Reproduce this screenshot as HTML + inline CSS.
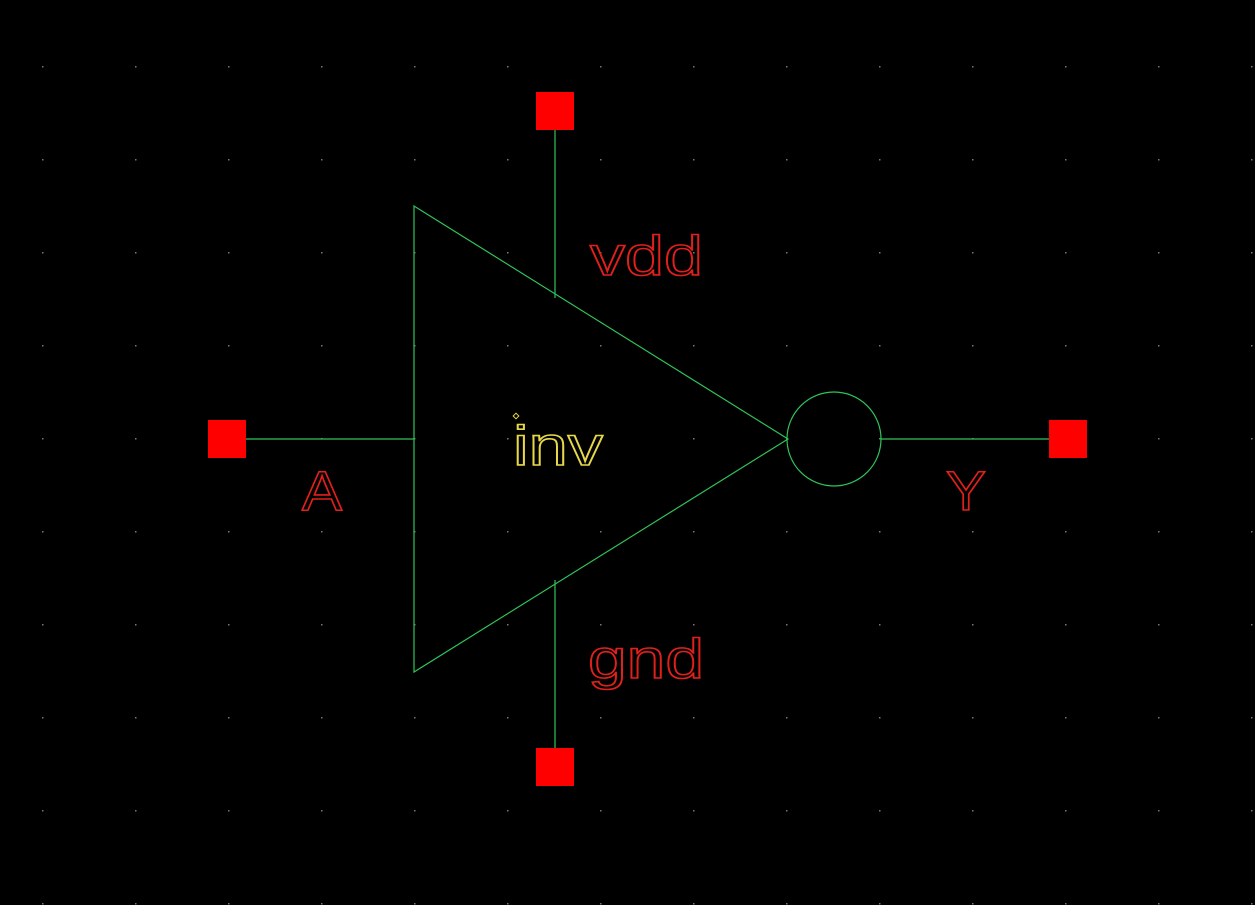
<!DOCTYPE html>
<html><head><style>html,body{margin:0;background:#000;width:1255px;height:905px;overflow:hidden}</style></head>
<body>
<svg id="sch" width="1255" height="905" viewBox="0 0 1255 905" style="display:block">
<rect width="1255" height="905" fill="#000"/>
<g id="grid"></g>
<g stroke="#22c55e" stroke-width="1.2" fill="none">
<polygon points="414,206 788,439 414,672" stroke="#2fc45a"/>
<circle cx="834" cy="439" r="47" stroke="#2fc45a"/>
<line x1="246" y1="439" x2="414" y2="439" stroke="#2fc45a"/>
<line x1="881" y1="439" x2="1050" y2="439" stroke="#2fc45a"/>
<line x1="555" y1="130" x2="555" y2="298" stroke="#2fc45a"/>
<line x1="555" y1="580" x2="555" y2="748" stroke="#2fc45a"/>
</g>
<rect x="536" y="92" width="38" height="38" fill="#ff0000"/>
<rect x="536" y="748" width="38" height="38" fill="#ff0000"/>
<rect x="208" y="420" width="38" height="38" fill="#ff0000"/>
<rect x="1049" y="420" width="38" height="38" fill="#ff0000"/>
<g font-family="Liberation Sans, sans-serif" font-size="56" fill="none" stroke-width="1.6">
<text x="590" y="275" stroke="#e0201c" textLength="113" lengthAdjust="spacingAndGlyphs">vdd</text>
<text x="588" y="678" stroke="#e0201c" textLength="116" lengthAdjust="spacingAndGlyphs">gnd</text>
<text x="302" y="510" stroke="#e0201c" textLength="40" lengthAdjust="spacingAndGlyphs">A</text>
<text x="946" y="510" stroke="#e0201c" textLength="40" lengthAdjust="spacingAndGlyphs">Y</text>
<text x="513" y="465" stroke="#e6d84a" textLength="90" lengthAdjust="spacingAndGlyphs">inv</text>
</g>
<rect x="514" y="414" width="4" height="4" fill="none" stroke="#e6d84a" transform="rotate(45 516 416)"/>
</svg>
<script>
var g=document.getElementById('grid');
for(var x=42;x<1255;x+=93){for(var y=66;y<905;y+=93){
var d=document.createElementNS('http://www.w3.org/2000/svg','rect');
d.setAttribute('x',x);d.setAttribute('y',y);d.setAttribute('width',1.5);d.setAttribute('height',1.5);d.setAttribute('fill','#777');


g.appendChild(d);}}
</script>
</body></html>
